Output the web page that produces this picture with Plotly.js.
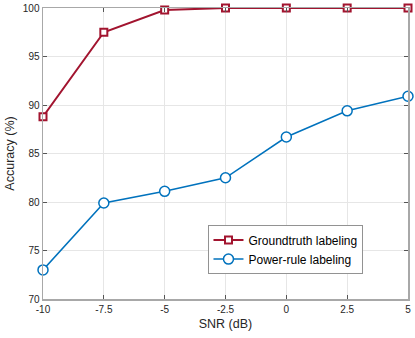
<!DOCTYPE html>
<html>
<head>
<meta charset="utf-8">
<script src="https://cdn.plot.ly/plotly-3.0.1.min.js"></script>
<style>
  html, body { margin: 0; padding: 0; background: #fff; }
  #chart { width: 415px; height: 338px; }
</style>
</head>
<body>
<div id="chart"></div>
<script>
/* values */
const snr = [-10, -7.5, -5, -2.5, 0, 2.5, 5];
const groundtruth = [88.8, 97.5, 99.8, 100, 100, 100, 100];
const powerRule = [73.0, 79.9, 81.1, 82.5, 86.7, 89.4, 90.9];
const xTicks = [-10, -7.5, -5, -2.5, 0, 2.5, 5];
const xTickText = ['-10', '-7.5', '-5', '-2.5', '0', '2.5', '5'];
const yTicks = [70, 75, 80, 85, 90, 95, 100];

const RED = '#A2142F';
const BLUE = '#0072BD';
const FONT = 'Liberation Sans, Arial, sans-serif';

const traces = [
  {
    x: snr, y: groundtruth,
    type: 'scatter', mode: 'lines+markers',
    name: 'Groundtruth labeling',
    line: {color: RED, width: 2},
    marker: {symbol: 'square', size: 7, color: '#fff', line: {color: RED, width: 2}},
    cliponaxis: false
  },
  {
    x: snr, y: powerRule,
    type: 'scatter', mode: 'lines+markers',
    name: 'Power-rule labeling',
    line: {color: BLUE, width: 1.5},
    marker: {symbol: 'circle', size: 10, color: '#fff', line: {color: BLUE, width: 1.5}},
    cliponaxis: false
  }
];

const axisCommon = {
  showline: true, linecolor: '#a8a8a8', linewidth: 1.5, mirror: 'ticks',
  ticks: 'inside', ticklen: 4, tickcolor: '#555',
  showgrid: true, gridcolor: '#e6e6e6', gridwidth: 1,
  zeroline: false,
  tickfont: {family: FONT, size: 10, color: '#262626'}
};

const layout = {
  width: 415, height: 338,
  margin: {l: 43, r: 7, t: 8, b: 39},
  paper_bgcolor: '#fff', plot_bgcolor: '#fff',
  showlegend: true,
  xaxis: Object.assign({}, axisCommon, {
    range: [-10, 5], tickvals: xTicks, ticktext: xTickText,
    title: {text: 'SNR (dB)', standoff: 5, font: {family: FONT, size: 12.5, color: '#262626'}}
  }),
  yaxis: Object.assign({}, axisCommon, {
    range: [70, 100], tickvals: yTicks,
    title: {text: 'Accuracy (%)', standoff: 5, font: {family: FONT, size: 12.5, color: '#262626'}}
  }),
  legend: {
    x: 0.452, y: 0.254, xanchor: 'left', yanchor: 'top',
    bgcolor: '#fff', bordercolor: '#262626', borderwidth: 0.5,
    font: {family: FONT, size: 12, color: '#000'},
    itemwidth: 30,
    tracegroupgap: 0
  }
};

Plotly.newPlot('chart', traces, layout, {displayModeBar: false, staticPlot: true});
</script>
</body>
</html>
